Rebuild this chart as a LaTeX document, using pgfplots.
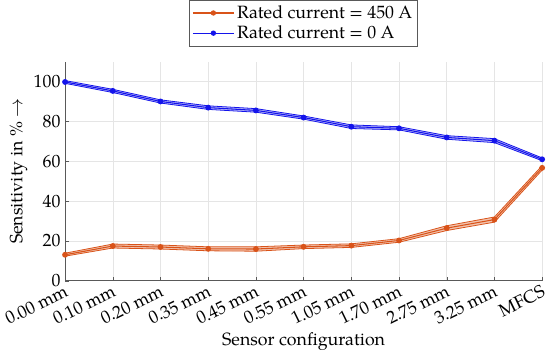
\documentclass[border=0pt]{standalone}
\usepackage{fontspec}
\setmainfont{TeX Gyre Pagella}
\usepackage{pgfplots}
\pgfplotsset{compat=1.18}
\usepgfplotslibrary{fillbetween}
\definecolor{corange}{RGB}{217,83,25}
\definecolor{cblue}{RGB}{20,20,235}
\newcommand{\cf}{\fontsize{13.5}{16}\selectfont}
\begin{document}
\begin{tikzpicture}[font=\cf]
\begin{axis}[
  scale only axis,
  width=362pt, height=166pt,
  xmin=0, xmax=10, ymin=0, ymax=110,
  axis x line*=bottom, axis y line*=left,
  axis line style={gray!70!black},
  xtick={0,...,10},
  xticklabels={0.00 mm,0.10 mm,0.20 mm,0.35 mm,0.45 mm,0.55 mm,1.05 mm,1.70 mm,2.75 mm,3.25 mm,MFCS},
  xticklabel style={rotate=26, anchor=north east, inner sep=2pt, font=\cf},
  yticklabel style={font=\cf},
  ytick={0,20,40,60,80,100},
  /pgf/number format/assume math mode=true,
  tick style={gray!70!black},
  major tick length=3pt,
  tick align=inside,
  grid=major,
  grid style={gray!20},
  xlabel={Sensor configuration},
  ylabel={Sensitivity in \% $\rightarrow$},
  label style={font=\cf},
  ylabel style={yshift=-2pt},
  xlabel style={yshift=1pt},
  legend style={at={(0.5,1.072)}, anchor=south, draw=gray!70!black, legend cell align=left, font=\cf, row sep=0pt, inner sep=2pt},
  legend image code/.code={\draw[#1] (0cm,0cm) -- (1.1cm,0cm); \fill[#1] (0.55cm,0cm) circle (1.6pt);},
]
% orange band
\addplot[name path=ou, corange, line width=0.6pt, forget plot] coordinates {(0,13.8)(1,18.4)(2,17.9)(3,17.0)(4,17.0)(5,17.9)(6,18.5)(7,21.1)(8,27.6)(9,32.0)(10,57.8)};
\addplot[name path=ol, corange, line width=0.6pt, forget plot] coordinates {(0,12.3)(1,16.4)(2,15.9)(3,15.0)(4,14.8)(5,16.1)(6,16.7)(7,19.3)(8,25.2)(9,29.4)(10,55.6)};
\addplot[corange!35, forget plot] fill between[of=ou and ol];
% blue band
\addplot[name path=bu, cblue, line width=0.6pt, forget plot] coordinates {(0,100.6)(1,96.2)(2,90.9)(3,87.9)(4,86.5)(5,82.8)(6,78.3)(7,77.4)(8,72.9)(9,71.4)(10,61.7)};
\addplot[name path=bl, cblue, line width=0.6pt, forget plot] coordinates {(0,99.2)(1,94.6)(2,89.3)(3,86.1)(4,84.7)(5,81.2)(6,76.5)(7,75.8)(8,71.1)(9,69.4)(10,60.3)};
\addplot[cblue!30, forget plot] fill between[of=bu and bl];
% centre markers
\addplot[corange, line width=0.8pt, mark=*, mark size=1.8pt] coordinates {(0,13.0)(1,17.4)(2,16.9)(3,16.0)(4,15.9)(5,17.0)(6,17.6)(7,20.2)(8,26.4)(9,30.7)(10,56.7)};
\addlegendentry{Rated current = 450 A}
\addplot[cblue, line width=0.8pt, mark=*, mark size=1.8pt] coordinates {(0,99.9)(1,95.4)(2,90.1)(3,87.0)(4,85.6)(5,82.0)(6,77.4)(7,76.6)(8,72.0)(9,70.4)(10,61.0)};
\addlegendentry{Rated current = 0 A}
\end{axis}
\end{tikzpicture}
\end{document}
